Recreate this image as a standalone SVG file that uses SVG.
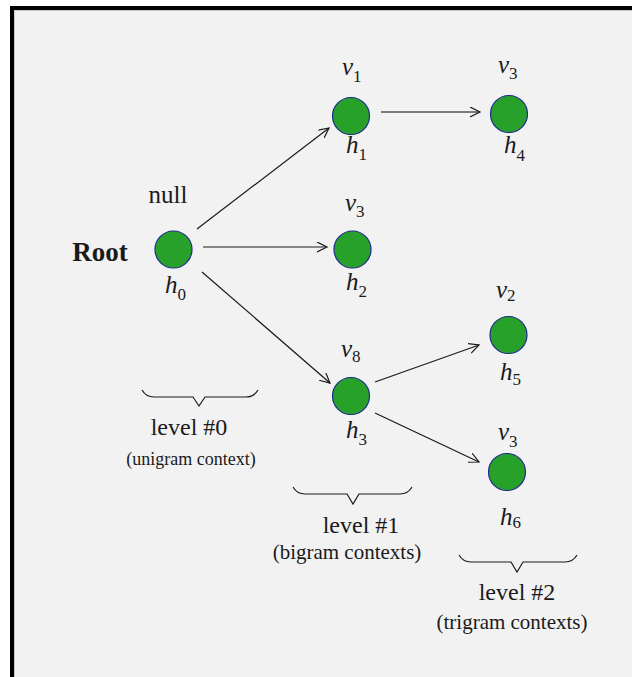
<svg xmlns="http://www.w3.org/2000/svg" width="632" height="677" viewBox="0 0 632 677">
  <style>
    .node { fill: #28a12a; stroke: #1c2a8c; stroke-width: 1.2; }
    .edge { fill: none; stroke: #1a1a1a; stroke-width: 1.2; marker-end: url(#arrow); }
    .brace { fill: none; stroke: #1a1a1a; stroke-width: 1.2; }
    .lbl { font-family: "Liberation Serif", "Times New Roman", serif; font-style: italic; font-size: 25px; fill: #1a1a1a; }
    .sub { font-size: 17px; font-style: normal; }
    .txt { font-family: "Liberation Serif", "Times New Roman", serif; fill: #1a1a1a; }
  </style>
  <defs>
    <marker id="arrow" markerWidth="12" markerHeight="12" refX="10" refY="5" orient="auto" markerUnits="userSpaceOnUse">
      <path d="M0,0 L10,5 L0,10" fill="none" stroke="#1a1a1a" stroke-width="1.2"/>
    </marker>
  </defs>

  <!-- canvas and frame -->
  <rect x="0" y="0" width="632" height="677" fill="#ffffff"/>
  <rect x="12" y="8" width="640" height="700" fill="#f2f2f2" stroke="#000" stroke-width="4"/>
  <rect x="14.5" y="10.5" width="640" height="700" fill="none" stroke="#c9c9c9" stroke-width="1"/>

  <!-- connectors -->
  <g id="edges">
    <line class="edge" x1="197" y1="229" x2="329" y2="128"/>
    <line class="edge" x1="203" y1="247" x2="327" y2="247"/>
    <line class="edge" x1="202" y1="272" x2="330" y2="383"/>
    <line class="edge" x1="381" y1="112" x2="480" y2="112" style="stroke:#555;stroke-width:1.5"/>
    <line class="edge" x1="375" y1="382" x2="479" y2="345"/>
    <line class="edge" x1="375" y1="413" x2="479" y2="462"/>
  </g>

  <!-- root node -->
  <g id="root">
    <circle class="node" cx="173.5" cy="249.5" r="18.5"/>
    <text class="txt" x="100" y="261" font-size="27" font-weight="bold" text-anchor="middle">Root</text>
    <text class="txt" x="168" y="203" font-size="25" text-anchor="middle">null</text>
    <text class="lbl" x="165" y="293">h<tspan class="sub" dy="7">0</tspan></text>
  </g>

  <g id="n1">
    <circle class="node" cx="351" cy="116" r="18.5"/>
    <text class="lbl" x="342" y="75">v<tspan class="sub" dy="7">1</tspan></text>
    <text class="lbl" x="346" y="153">h<tspan class="sub" dy="7">1</tspan></text>
  </g>

  <g id="n2">
    <circle class="node" cx="352.5" cy="249.5" r="18.5"/>
    <text class="lbl" x="345" y="211">v<tspan class="sub" dy="6">3</tspan></text>
    <text class="lbl" x="346" y="290">h<tspan class="sub" dy="7">2</tspan></text>
  </g>

  <g id="n3">
    <circle class="node" cx="351" cy="396" r="18.5"/>
    <text class="lbl" x="341" y="357">v<tspan class="sub" dy="5" font-size="13">8</tspan></text>
    <text class="lbl" x="346" y="438">h<tspan class="sub" dy="7">3</tspan></text>
  </g>

  <g id="n4">
    <circle class="node" cx="509" cy="114" r="18.5"/>
    <text class="lbl" x="498" y="73">v<tspan class="sub" dy="6">3</tspan></text>
    <text class="lbl" x="504" y="153">h<tspan class="sub" dy="8">4</tspan></text>
  </g>

  <g id="n5">
    <circle class="node" cx="508.5" cy="335" r="18.5"/>
    <text class="lbl" x="496" y="298">v<tspan class="sub" dy="3">2</tspan></text>
    <text class="lbl" x="500" y="380">h<tspan class="sub" dy="5">5</tspan></text>
  </g>

  <g id="n6">
    <circle class="node" cx="507" cy="472" r="18.5"/>
    <text class="lbl" x="498" y="440">v<tspan class="sub" dy="7">3</tspan></text>
    <text class="lbl" x="500" y="525">h<tspan class="sub" dy="3" font-size="13">6</tspan></text>
  </g>

  <!-- level annotations -->
  <g id="level0">
    <path class="brace" d="M142,390 Q146,397 154,397 L193,397 L199,406 L205,397 L246,397 Q254,397 258,390"/>
    <text class="txt" x="189" y="435" font-size="24" text-anchor="middle">level #0</text>
    <text class="txt" x="191" y="465" font-size="18" text-anchor="middle">(unigram context)</text>
  </g>
  <g id="level1">
    <path class="brace" d="M293,487 Q297,494 305,494 L347,494 L353,504 L359,494 L400,494 Q408,494 412,487"/>
    <text class="txt" x="361" y="533" font-size="24" text-anchor="middle">level #1</text>
    <text class="txt" x="347" y="559" font-size="21" text-anchor="middle">(bigram contexts)</text>
  </g>
  <g id="level2">
    <path class="brace" d="M459,555 Q463,562 471,562 L511,562 L517,572 L523,562 L565,562 Q573,562 577,555"/>
    <text class="txt" x="517" y="600" font-size="24" text-anchor="middle">level #2</text>
    <text class="txt" x="512" y="629" font-size="21" text-anchor="middle">(trigram contexts)</text>
  </g>
</svg>
